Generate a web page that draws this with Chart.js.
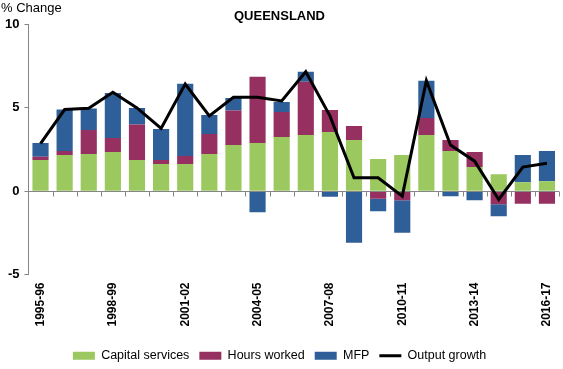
<!DOCTYPE html>
<html>
<head>
<meta charset="utf-8">
<script src="https://cdn.jsdelivr.net/npm/chart.js@4"></script>
<style>
  body { margin: 0; background: #fff; }
  #wrap { width: 563px; height: 369px; position: relative; }
</style>
</head>
<body>
<div id="wrap"><canvas id="chart"></canvas></div>
<script>
// Queensland — contributions to output growth (% change)
const years = [
  '1995-96', '1996-97', '1997-98', '1998-99', '1999-00', '2000-01', '2001-02', '2002-03',
  '2003-04', '2004-05', '2005-06', '2006-07', '2007-08', '2008-09', '2009-10', '2010-11',
  '2011-12', '2012-13', '2013-14', '2014-15', '2015-16', '2016-17'
];
const capitalServices = [1.87, 2.17, 2.23, 2.35, 1.87, 1.63, 1.63, 2.23, 2.77, 2.89, 3.25, 3.37, 3.55, 3.07, 1.93, 2.17, 3.37, 2.41, 1.45, 1.02, 0.54, 0.60];
const hoursWorked = [0.20, 0.24, 1.44, 0.84, 2.13, 0.24, 0.48, 1.20, 2.07, 3.98, 1.51, 3.20, 1.33, 0.85, -0.46, -0.54, 1.03, 0.66, 0.90, -0.78, -0.76, -0.76];
const mfp = [0.82, 2.49, 1.29, 2.71, 1.00, 1.86, 4.34, 1.15, 0.76, -1.26, 0.60, 0.60, -0.34, -3.10, -0.74, -1.96, 2.23, -0.30, -0.54, -0.72, 1.63, 1.81];
const outputGrowth = [2.85, 4.90, 4.98, 5.94, 5.00, 3.77, 6.43, 4.52, 5.64, 5.64, 5.42, 7.17, 4.52, 0.80, 0.80, -0.30, 6.63, 2.77, 1.80, -0.50, 1.45, 1.67];
const yTicks = [-5, 0, 5, 10];

const FONT = "'Liberation Sans', Arial, sans-serif";
const AXIS_GREY = '#868686';

// zero line with category tick marks (Excel draws the category axis at 0)
const zeroAxis = {
  id: 'zeroAxis',
  afterDatasetDraw(chart, args) {
    if (args.index !== 0) return;
    const { ctx, chartArea, scales: { x, y } } = chart;
    const y0 = Math.round(y.getPixelForValue(0)) + 0.5;
    const step = x.width / years.length;
    ctx.save();
    ctx.strokeStyle = AXIS_GREY;
    ctx.lineWidth = 1;
    ctx.beginPath();
    ctx.moveTo(chartArea.left, y0);
    ctx.lineTo(chartArea.right, y0);
    for (let i = 1; i <= years.length; i++) {
      const xb = Math.round(x.getPixelForValue(i - 1) + step / 2) + 0.5;
      ctx.moveTo(xb, y0);
      ctx.lineTo(xb, y0 + 5);
    }
    ctx.stroke();
    ctx.restore();
  }
};

const unitLabel = {
  id: 'unitLabel',
  afterDraw(chart) {
    const ctx = chart.ctx;
    ctx.save();
    ctx.fillStyle = '#000';
    ctx.font = '13px ' + FONT;
    ctx.textBaseline = 'top';
    ctx.fillText('% Change', 1, 2);
    ctx.restore();
  }
};

const barStyle = { borderWidth: 0, categoryPercentage: 1, barPercentage: 0.67, order: 1, stack: 'parts', pointStyle: 'rect' };

new Chart(document.getElementById('chart'), {
  type: 'bar',
  data: {
    labels: years,
    datasets: [
      { label: 'Capital services', data: capitalServices, backgroundColor: '#9BC85F', ...barStyle },
      { label: 'Hours worked', data: hoursWorked, backgroundColor: '#963060', ...barStyle },
      { label: 'MFP', data: mfp, backgroundColor: '#2F5F98', ...barStyle },
      {
        type: 'line', label: 'Output growth', data: outputGrowth, stack: 'output', order: 0,
        borderColor: '#000', backgroundColor: '#000', borderWidth: 3, pointRadius: 0,
        tension: 0, pointStyle: 'line'
      }
    ]
  },
  options: {
    responsive: true,
    maintainAspectRatio: false,
    animation: false,
    layout: { padding: { left: 0, right: 4, top: 0, bottom: -3 } },
    scales: {
      x: {
        stacked: true,
        grid: { display: false },
        border: { display: false },
        afterFit: (scale) => { scale.height += 13; },
        ticks: {
          autoSkip: false,
          minRotation: 90,
          maxRotation: 90,
          padding: 0,
          color: '#000',
          font: { family: FONT, size: 12, weight: 'bold' },
          callback: (v, i) => (i % 3 === 0 ? years[i] : '')
        }
      },
      y: {
        stacked: true,
        min: -5,
        max: 10,
        afterBuildTicks: (axis) => { axis.ticks = yTicks.map(v => ({ value: v })); },
        grid: { drawOnChartArea: false, drawTicks: true, tickLength: 4, color: AXIS_GREY },
        border: { display: true, color: AXIS_GREY },
        ticks: {
          padding: 5,
          color: '#000',
          font: { family: FONT, size: 13, weight: 'bold' }
        }
      }
    },
    plugins: {
      title: {
        display: true,
        text: 'QUEENSLAND',
        color: '#000',
        font: { family: FONT, size: 13, weight: 'bold' },
        padding: { top: 9, bottom: 0 }
      },
      legend: {
        display: true,
        position: 'bottom',
        labels: {
          usePointStyle: true,
          pointStyleWidth: 22,
          boxHeight: 8,
          padding: 10,
          color: '#000',
          font: { family: FONT, size: 12.5 },
          sort: (a, b) => a.datasetIndex - b.datasetIndex
        }
      },
      tooltip: { enabled: false }
    }
  },
  plugins: [zeroAxis, unitLabel]
});
</script>
</body>
</html>
